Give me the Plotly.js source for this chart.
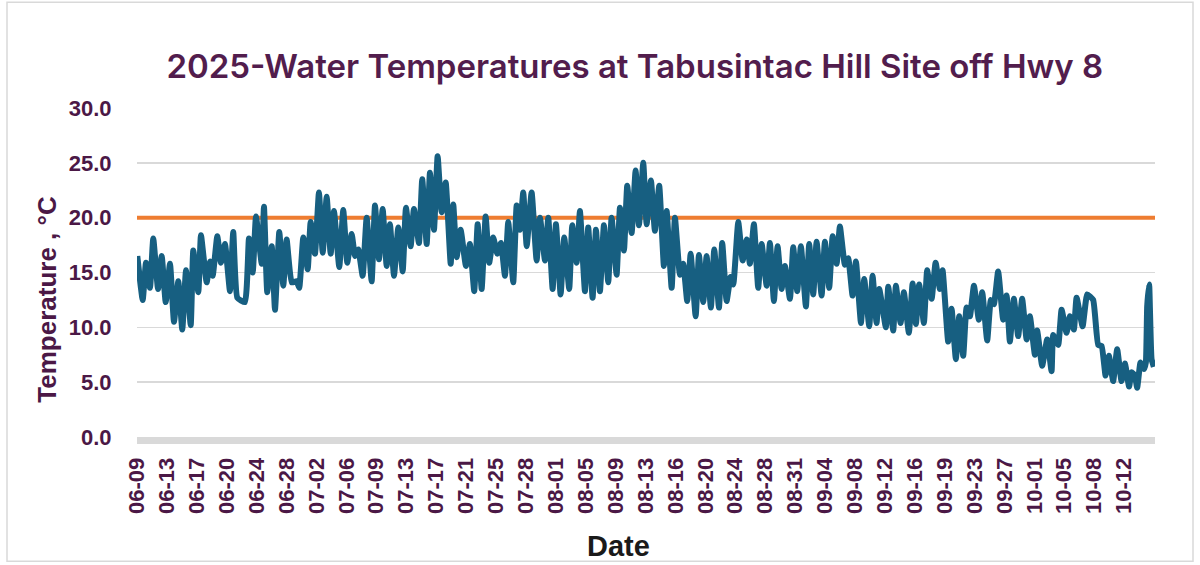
<!DOCTYPE html>
<html>
<head>
<meta charset="utf-8">
<script src="https://cdn.plot.ly/plotly-3.0.1.min.js"></script>
<style>html,body{margin:0;padding:0;background:#fff;}#chart{width:1200px;height:565px;}</style>
</head>
<body>
<div id="chart"></div>
<script>
// Days elapsed since 06-09 (reading positions)
const dayOffset = [
0.04,0.73,1.15,1.66,2.08,2.69,3.16,3.67,4.22,4.73,5.28,5.79,6.27,6.87,7.20,7.84,8.18,8.91,9.34,9.68,
10.27,10.74,11.25,11.89,12.31,12.83,13.81,14.32,14.80,15.22,15.95,16.24,16.66,17.23,17.65,18.20,18.71,19.14,19.78,20.42,
20.75,21.27,21.83,22.21,22.76,23.27,23.75,24.26,24.77,25.19,25.87,26.38,26.89,27.46,27.88,28.30,28.86,29.37,30.01,30.44,
30.95,31.42,31.93,32.35,32.87,33.42,33.98,34.40,35.00,35.42,36.06,36.48,37.05,37.47,37.98,38.45,38.96,39.48,40.12,40.45,
40.88,41.39,42.07,42.58,43.13,43.57,44.08,44.59,45.05,45.56,46.08,46.55,47.06,47.48,48.12,48.56,48.98,49.40,49.84,50.47,
51.11,51.54,52.18,52.60,53.16,53.58,54.18,54.64,55.28,55.67,56.23,56.65,57.29,57.71,58.27,58.70,59.21,59.72,60.27,60.70,
61.34,61.77,62.28,62.70,63.26,63.77,64.20,64.75,65.18,65.73,66.24,66.79,67.39,67.74,68.38,68.80,69.44,69.86,70.37,70.81,
71.45,71.87,72.42,72.85,73.40,73.83,74.43,74.85,75.41,75.92,76.26,76.90,77.46,77.97,78.39,78.90,79.45,79.89,80.53,80.95,
81.46,81.93,82.44,82.87,83.51,83.93,84.44,84.91,85.55,85.97,86.49,86.92,87.56,87.98,88.53,88.97,89.48,89.90,90.54,90.96,
91.52,91.95,92.59,93.01,93.65,94.08,94.59,94.93,95.78,96.08,96.72,97.06,97.66,98.08,98.72,99.20,99.62,100.04,100.64,101.06,
101.63,102.14,102.69,103.03,103.75,104.18,104.73,105.16,105.67,106.10,106.52,107.04,107.67,108.10,108.74,109.21,109.59,110.14,110.78,111.22,
111.64,112.15,112.70,113.21,113.78,114.20,114.84,115.13,115.77,116.41,116.97,117.18,117.82,118.25,118.89,119.31,119.82,120.17,120.94,121.53,
122.29,122.93,123.37,123.88,124.30,124.85,125.36,125.92,126.35,126.89,127.20,127.62,127.92,128.35,128.78,129.03,129.20,129.45,129.76,130.05
];
// Water temperature (°C) at each reading
const waterTemp = [
16.5,12.5,15.9,13.6,18.1,13.5,16.5,12.3,15.8,10.5,14.2,9.8,15.2,10.2,17.0,13.2,18.4,14.1,16.0,14.7,
18.3,15.9,17.6,13.3,18.7,12.7,12.3,18.1,15.0,20.1,15.8,21.0,13.2,17.4,11.6,18.7,13.8,18.0,14.1,14.2,
13.6,18.2,15.3,19.6,16.7,22.3,16.8,21.9,16.7,20.6,15.5,20.7,15.9,18.5,16.5,17.1,14.7,20.0,14.2,21.1,
16.2,20.8,15.6,19.4,14.7,19.1,15.1,20.9,17.4,20.8,17.7,23.5,17.6,24.1,18.9,25.6,20.5,23.2,15.8,21.2,
16.4,18.9,15.6,17.6,13.3,19.4,13.5,20.1,15.9,18.2,16.7,17.7,14.7,19.6,14.1,21.1,18.9,22.3,17.4,22.3,
16.1,20.0,16.1,20.0,13.5,19.4,13.0,18.2,13.5,19.3,15.9,20.6,13.3,19.1,12.7,18.9,13.3,19.3,14.1,20.0,
14.8,20.9,17.0,22.9,18.6,24.3,19.3,25.0,19.4,23.4,18.8,22.9,15.6,20.6,13.6,20.0,14.8,15.8,12.4,16.7,
11.0,16.6,12.3,16.5,11.8,17.1,11.8,17.7,12.4,14.6,13.9,19.6,16.1,18.0,15.8,19.4,13.6,17.6,13.8,17.7,
12.4,17.4,13.5,15.6,12.6,17.3,13.3,17.4,11.9,17.6,13.0,17.8,12.9,17.8,13.6,18.3,15.8,19.2,15.7,16.3,
12.9,16.0,10.4,14.4,10.1,14.7,10.4,13.5,10.0,13.7,9.7,13.8,10.4,13.2,9.5,14.0,10.3,13.9,10.4,15.2,
12.6,15.9,13.5,15.2,8.7,11.7,7.1,11.0,7.4,11.8,11.0,13.8,10.7,13.2,8.8,12.5,12.1,15.1,10.7,12.9,
8.7,12.6,9.2,12.6,8.9,11.0,7.5,9.7,6.5,8.9,6.0,9.3,8.4,11.6,9.5,11.0,9.8,12.7,10.1,13.0,
12.5,8.4,8.3,5.6,7.4,5.1,8.0,5.1,6.7,4.6,5.9,5.6,4.5,6.8,6.2,6.8,11.9,13.9,7.1,6.4
];
// Reference threshold (°C)
const thresholdTemp = 20;
const thresholdDays = [0, 130.2];
// Date tick labels (mm-dd)
const tickLabels = ["06-09","06-13","06-17","06-20","06-24","06-28","07-02","07-06","07-09","07-13",
"07-17","07-21","07-25","07-28","08-01","08-05","08-09","08-13","08-16","08-20","08-24","08-28",
"08-31","09-04","09-08","09-12","09-16","09-19","09-23","09-27","10-01","10-05","10-08","10-12"];
const labelStepDays = 3.826;
const tickVals = tickLabels.map((_, i) => i * labelStepDays);

const purple = '#4b1846';
const traces = [
  {x: thresholdDays, y: thresholdDays.map(() => thresholdTemp), mode: 'lines',
   line: {color: '#ee7d31', width: 4}, hoverinfo: 'skip', showlegend: false},
  {x: dayOffset, y: waterTemp, mode: 'lines',
   line: {color: '#175f81', width: 6, shape: 'spline', smoothing: 0.4}, showlegend: false}
];
const W = 1200, H = 565, L = 137, R = 45, T = 108, B = 127.5;
const pw = W - L - R, ph = H - T - B;
const layout = {
  width: W, height: H,
  margin: {l: L, r: R, t: T, b: B},
  paper_bgcolor: '#ffffff', plot_bgcolor: '#ffffff',
  showlegend: false,
  title: {text: '2025-Water Temperatures at Tabusintac Hill Site off Hwy 8',
          font: {family: 'Inter, Open Sans, sans-serif', size: 33, color: '#521d4d', weight: 600},
          x: 0.529, xref: 'container', xanchor: 'center', y: 1 - 66/565, yref: 'container', yanchor: 'middle'},
  xaxis: {range: [0, 130.2], tickmode: 'array', tickvals: tickVals, ticktext: tickLabels, tickangle: -90,
          tickfont: {family: 'Liberation Sans, Arial, sans-serif', size: 22, color: purple, weight: 700},
          showgrid: false, zeroline: false, showline: true, linecolor: '#d9d9d9', linewidth: 7,
          ticks: 'outside', ticklen: 5, tickcolor: 'rgba(0,0,0,0)', fixedrange: true},
  yaxis: {range: [0, 30], tickvals: [0,5,10,15,20,25,30], tickformat: '.1f',
          tickfont: {family: 'Liberation Sans, Arial, sans-serif', size: 22, color: purple, weight: 700},
          showgrid: true, gridcolor: '#d9d9d9', gridwidth: 1.5, zeroline: false, showline: false,
          ticks: 'outside', ticklen: 20, tickcolor: 'rgba(0,0,0,0)', fixedrange: true},
  annotations: [
    {text: 'Temperature , °C', xref: 'paper', yref: 'paper', x: (47 - L)/pw, y: (H - B - 300)/ph,
     xanchor: 'center', yanchor: 'middle', textangle: -90, showarrow: false,
     font: {family: 'Liberation Sans, Arial, sans-serif', size: 26, color: purple, weight: 700}},
    {text: 'Date', xref: 'paper', yref: 'paper', x: (618 - L)/pw, y: (H - B - 547)/ph,
     xanchor: 'center', yanchor: 'middle', showarrow: false,
     font: {family: 'Liberation Sans, Arial, sans-serif', size: 29, color: '#1a1a1a', weight: 700}}
  ],
  shapes: [
    {type: 'rect', xref: 'paper', yref: 'paper', x0: (7 - L)/pw, x1: (1193 - L)/pw,
     y0: (H - B - 562)/ph, y1: (H - B - 2)/ph, line: {color: '#d9d9d9', width: 1.5}, layer: 'below'}
  ]
};
Plotly.newPlot('chart', traces, layout, {staticPlot: true, displayModeBar: false});
</script>
</body>
</html>
